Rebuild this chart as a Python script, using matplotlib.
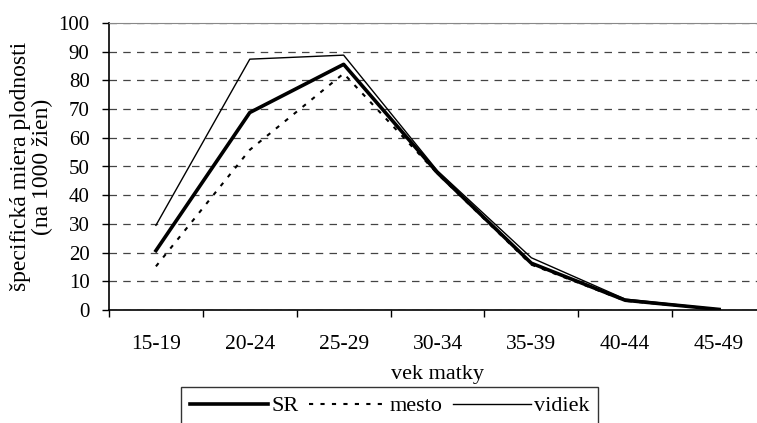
import matplotlib
matplotlib.use("Agg")
import matplotlib.pyplot as plt

plt.rcParams['font.family'] = ['Liberation Serif', 'DejaVu Serif']

vek = ['15-19', '20-24', '25-29', '30-34', '35-39', '40-44', '45-49']
sr = [20.7, 68.8, 85.6, 47.8, 16.3, 3.4, 0.2]
mesto = [15.2, 55.8, 82.4, 47.5, 15.8, 3.2, 0.2]
vidiek = [29.5, 87.4, 88.8, 48.5, 18.2, 3.8, 0.3]

fig = plt.figure(figsize=(7.57, 4.23), dpi=100)
ax = fig.add_axes([109/757, 1-310/423, (766-109)/757, (310-23)/423])

x = list(range(len(vek)))
ax.plot(x, sr, color='black', lw=2.6, label='SR')
ax.plot(x, mesto, color='black', lw=1.5, linestyle=(0, (2, 3.5)), label='mesto')
ax.plot(x, vidiek, color='black', lw=1.0, label='vidiek')

ax.set_xlim(-0.5, 6.5)
ax.set_ylim(0, 100)
ax.set_yticks(range(0, 101, 10))
ax.set_xticks(x)
ax.set_xticklabels(vek)
ax.set_xticks([i + 0.5 for i in range(-1, 7)], minor=True)
ax.tick_params(axis='x', which='major', length=0, labelsize=15.5, pad=18)
ax.tick_params(axis='x', which='minor', length=5, direction='out', width=1)
ax.tick_params(axis='y', length=5, direction='out', width=1, labelsize=15, pad=9)

ax.grid(axis='y', color='#444444', linestyle=(0, (6, 5)), lw=0.9)
ax.spines['top'].set_color('#888888')
ax.spines['right'].set_visible(False)
ax.spines['left'].set_linewidth(1.2)
ax.spines['bottom'].set_linewidth(1.2)

ax.set_ylabel('špecifická miera plodnosti\n(na 1000 žien)', fontsize=17,
              labelpad=4, linespacing=1.05)
ax.set_xlabel('vek matky', fontsize=16, labelpad=8)

leg = fig.legend(loc='upper center', bbox_to_anchor=(0.515, 1-387/423), ncol=3,
                 frameon=True, fancybox=False, edgecolor='black', fontsize=16,
                 handlelength=3.5, handletextpad=0.15, columnspacing=0.45,
                 borderpad=0.4, borderaxespad=0)
leg.get_frame().set_linewidth(1.0)

fig.savefig('out.png', dpi=100)
